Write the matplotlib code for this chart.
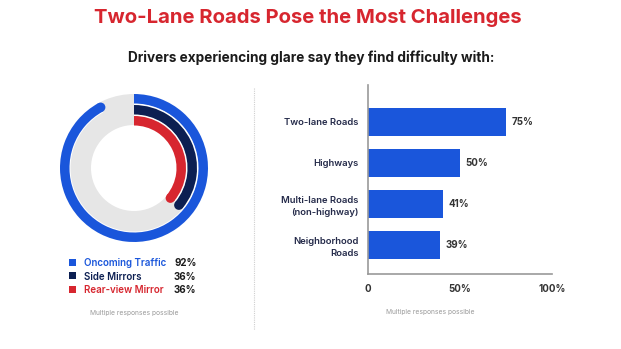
import matplotlib
matplotlib.use('agg')

import matplotlib.pyplot as plt
from matplotlib.patches import Wedge, Circle, Rectangle
import numpy as np

plt.rcParams['font.family'] = ['Inter', 'DejaVu Sans']

# data
ring_labels = ['Oncoming Traffic', 'Side Mirrors', 'Rear-view Mirror']
ring_values = [92, 36, 36]
ring_colors = ['#1a56db', '#0c1f52', '#d7262f']

road_labels = ['Two-lane Roads', 'Highways', 'Multi-lane Roads\n(non-highway)',
               'Neighborhood\nRoads']
road_values = [75, 50, 41, 39]
x_ticks = [0, 50, 100]
x_ticklabels = ['0', '50%', '100%']

W, H = 621, 349
fig = plt.figure(figsize=(W / 100, H / 100), dpi=100)
fig.patch.set_facecolor('white')


def px(x, y):
    return x / W, 1 - y / H


fig.text(*px(308, 18), 'Two-Lane Roads Pose the Most Challenges', color='#d7262f',
         fontsize=14.6, fontweight='bold', ha='center', va='center')
fig.text(*px(311, 58), 'Drivers experiencing glare say they find difficulty with:',
         color='#1b1b1b', fontsize=9.8, fontweight='bold', ha='center', va='center')

# donut
cx, cy, R = 134, 168, 80
ax_d = fig.add_axes([(cx - R) / W, 1 - (cy + R) / H, 2 * R / W, 2 * R / H])
ax_d.set_xlim(-R, R)
ax_d.set_ylim(-R, R)
ax_d.axis('off')
ax_d.add_patch(Wedge((0, 0), 74, 0, 360, width=31, facecolor='#e6e6e6', edgecolor='none'))
outer = [74, 63, 52]
width = 9.5
for r, v, c in zip(outer, ring_values, ring_colors):
    t1 = 90 - 360 * v / 100
    ax_d.add_patch(Wedge((0, 0), r + 1, t1, 90, width=width + 2, facecolor='white',
                         edgecolor='none'))
    ax_d.add_patch(Wedge((0, 0), r, t1, 90, width=width, facecolor=c, edgecolor='none'))
    rm = r - width / 2
    a = np.radians(t1)
    ax_d.add_patch(Circle((rm * np.cos(a), rm * np.sin(a)), width / 2, facecolor=c,
                          edgecolor='none'))

# legend
for i, (lab, v, c) in enumerate(zip(ring_labels, ring_values, ring_colors)):
    y = 263 + i * 13.5
    fig.patches.append(Rectangle(px(69, y + 2.5), 7 / W, 7 / H, facecolor=c,
                                 edgecolor='none', transform=fig.transFigure))
    fig.text(*px(84, y), lab, color=c, fontsize=7.0, fontweight='semibold',
             ha='left', va='center')
    fig.text(*px(174, y), f'{v}%', color='#1b1b1b', fontsize=7.0, fontweight='bold',
             ha='left', va='center')

fig.text(*px(134, 313), 'Multiple responses possible', color='#9a9a9a', fontsize=4.8,
         ha='center', va='center')

# separator
fig.add_artist(plt.Line2D([254 / W, 254 / W], [1 - 88 / H, 1 - 330 / H],
                          color='#cfcfcf', lw=0.8, ls=(0, (1, 1))))

# bars
x0, x1, yt, yb = 368, 552, 85, 274
ax = fig.add_axes([x0 / W, 1 - yb / H, (x1 - x0) / W, (yb - yt) / H])
pos = np.arange(len(road_values))
ax.barh(pos, road_values, height=0.68, color='#1a56db')
ax.set_xlim(0, 100)
ax.set_ylim(3.707, -0.902)
ax.set_xticks(x_ticks)
ax.set_xticklabels(x_ticklabels, fontsize=7, fontweight='bold', color='#333333')
ax.set_yticks(pos)
ax.set_yticklabels(road_labels, fontsize=6.8, fontweight='semibold', color='#252b4a',
                   linespacing=1.4)
ax.tick_params(length=0, pad=7)
ax.tick_params(axis='x', pad=7)
for s in ['top', 'right']:
    ax.spines[s].set_visible(False)
for s in ['left', 'bottom']:
    ax.spines[s].set_color('#999999')
    ax.spines[s].set_linewidth(1.2)
for p, v in zip(pos, road_values):
    ax.text(v + 3, p, f'{v}%', fontsize=7, fontweight='bold', color='#333333',
            va='center', ha='left')

fig.text(*px(430, 312), 'Multiple responses possible', color='#9a9a9a', fontsize=4.8,
         ha='center', va='center')

fig.savefig('out.png', dpi=100)
